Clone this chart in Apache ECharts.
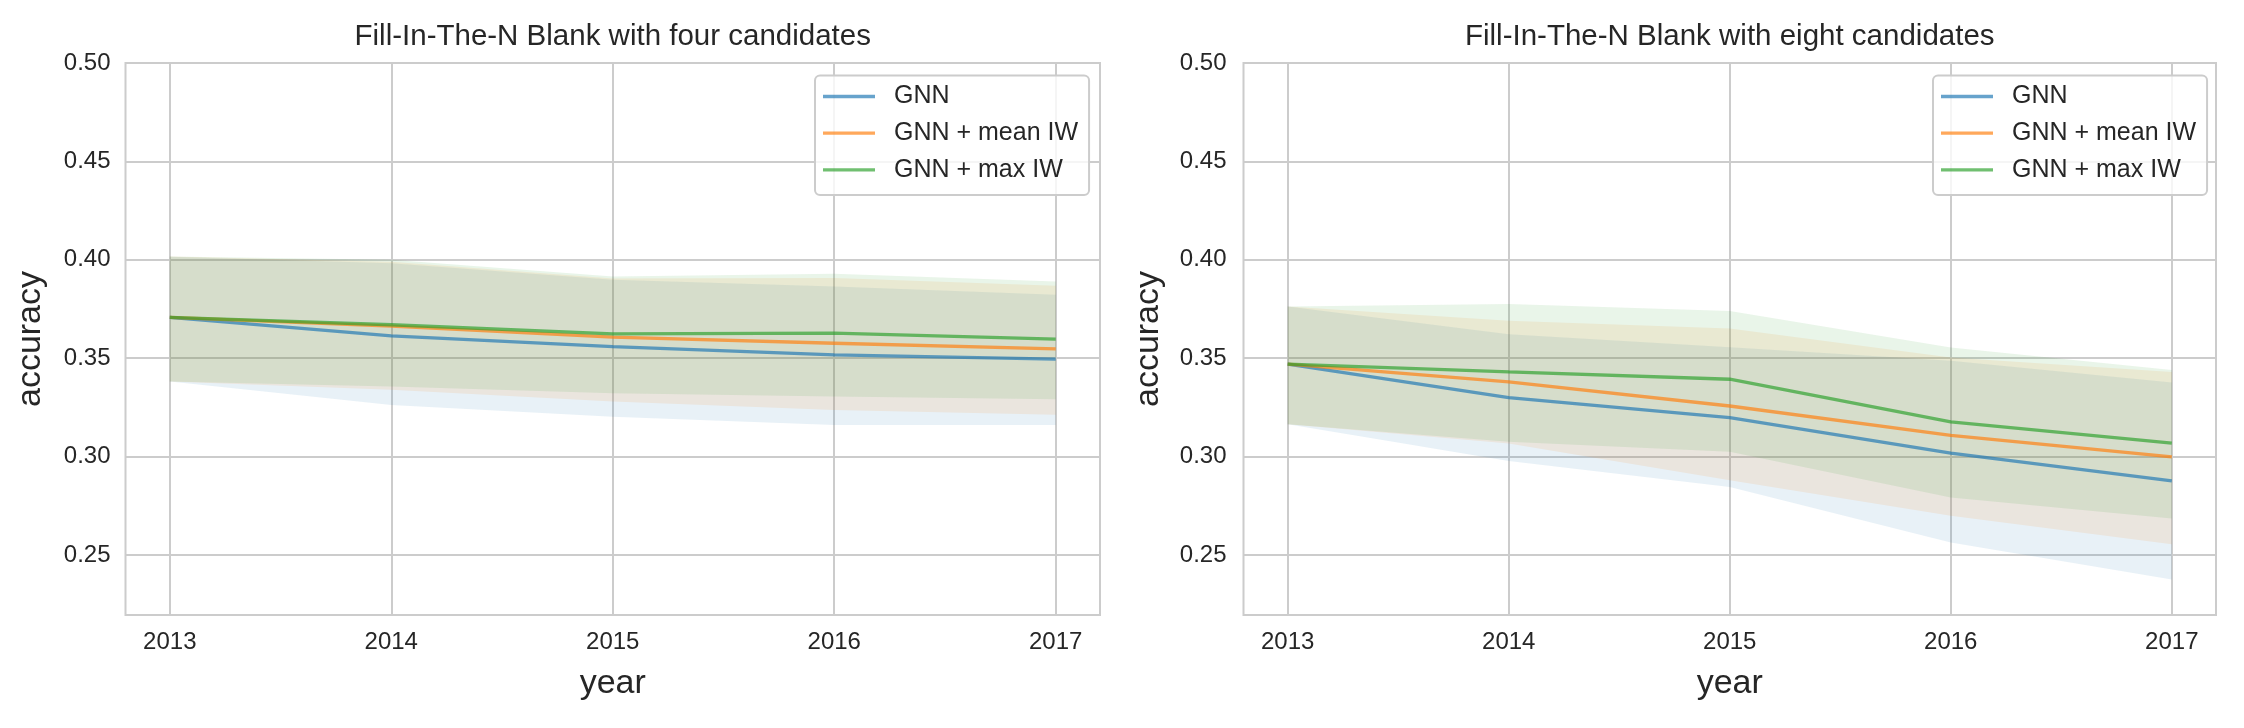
<!DOCTYPE html>
<html><head><meta charset="utf-8">
<script src="https://cdn.jsdelivr.net/npm/echarts@6/dist/echarts.min.js"></script>
<style>html,body{margin:0;padding:0;background:#fff}#c{width:2244px;height:728px}</style>
</head><body><div id="c"></div>
<script>
const years = [2013, 2014, 2015, 2016, 2017];
const yTicks = [0.25, 0.30, 0.35, 0.40, 0.45, 0.50];
const seriesNames = ['GNN', 'GNN + mean IW', 'GNN + max IW'];
const titles = ['Fill-In-The-N Blank with four candidates', 'Fill-In-The-N Blank with eight candidates'];

// Four candidates (left panel)
const four_gnn      = [0.3707, 0.3613, 0.3559, 0.3517, 0.3495];
const four_gnn_lo   = [0.3381, 0.3262, 0.3203, 0.3161, 0.3161];
const four_gnn_hi   = [0.4015, 0.3983, 0.3898, 0.3864, 0.3822];
const four_mean     = [0.3707, 0.3663, 0.3607, 0.3576, 0.3547];
const four_mean_lo  = [0.3381, 0.3340, 0.3280, 0.3237, 0.3212];
const four_mean_hi  = [0.4017, 0.3990, 0.3905, 0.3907, 0.3868];
const four_max      = [0.3707, 0.3670, 0.3624, 0.3627, 0.3597];
const four_max_lo   = [0.3381, 0.3356, 0.3322, 0.3305, 0.3291];
const four_max_hi   = [0.4017, 0.4000, 0.3915, 0.3929, 0.3890];

// Eight candidates (right panel)
const eight_gnn     = [0.3470, 0.3300, 0.3198, 0.3017, 0.2876];
const eight_gnn_lo  = [0.3164, 0.2978, 0.2845, 0.2563, 0.2376];
const eight_gnn_hi  = [0.3763, 0.3622, 0.3556, 0.3487, 0.3376];
const eight_mean    = [0.3470, 0.3380, 0.3257, 0.3108, 0.2998];
const eight_mean_lo = [0.3164, 0.3066, 0.2880, 0.2699, 0.2555];
const eight_mean_hi = [0.3763, 0.3690, 0.3651, 0.3503, 0.3430];
const eight_max     = [0.3470, 0.3430, 0.3393, 0.3176, 0.3068];
const eight_max_lo  = [0.3164, 0.3075, 0.3025, 0.2792, 0.2685];
const eight_max_hi  = [0.3763, 0.3775, 0.3740, 0.3554, 0.3440];

const panels = [
  {mean: [four_gnn, four_mean, four_max], lo: [four_gnn_lo, four_mean_lo, four_max_lo], hi: [four_gnn_hi, four_mean_hi, four_max_hi]},
  {mean: [eight_gnn, eight_mean, eight_max], lo: [eight_gnn_lo, eight_mean_lo, eight_max_lo], hi: [eight_gnn_hi, eight_mean_hi, eight_max_hi]}
];

const rgb = [[31,119,180],[255,127,14],[44,160,44]];
const lineAlpha = 0.68, bandAlpha = 0.1;
const FONT = '"Liberation Sans", Arial, sans-serif';
const TXT = '#262626';
const GRIDC = '#cccccc';

const gridsPx = [
  {left: 125.5, top: 63, width: 974.5, height: 552},
  {left: 1243.5, top: 63, width: 972.5, height: 552}
];

const chart = echarts.init(document.getElementById('c'), null, {renderer: 'canvas'});

const grid = gridsPx.map(g => ({left: g.left, top: g.top, width: g.width, height: g.height,
  show: true, borderColor: GRIDC, borderWidth: 2, backgroundColor: 'transparent', containLabel: false}));

const xAxis = gridsPx.map((g, i) => ({
  type: 'value', gridIndex: i, min: 2012.8, max: 2017.2,
  name: 'year', nameLocation: 'middle', nameGap: 52,
  nameTextStyle: {fontSize: 34, color: TXT, fontFamily: FONT},
  axisLine: {show: false},
  axisTick: {show: false, customValues: years},
  axisLabel: {customValues: years, fontSize: 24, color: TXT, fontFamily: FONT, margin: 15, formatter: v => String(v)},
  splitLine: {show: true, lineStyle: {color: GRIDC, width: 2}}
}));

const yAxis = gridsPx.map((g, i) => ({
  type: 'value', gridIndex: i, min: 0.2195, max: 0.5,
  name: 'accuracy', nameLocation: 'middle', nameGap: 78,
  nameTextStyle: {fontSize: 34, color: TXT, fontFamily: FONT},
  axisLine: {show: false},
  axisTick: {show: false, customValues: yTicks},
  axisLabel: {customValues: yTicks, fontSize: 24, color: TXT, fontFamily: FONT, margin: i === 0 ? 15 : 17, formatter: v => v.toFixed(2)},
  splitLine: {show: true, lineStyle: {color: GRIDC, width: 2}}
}));

const series = [];
panels.forEach((p, pi) => {
  for (let k = 0; k < 3; k++) {
    const data = years.map((y, j) => [y, p.lo[k][j], p.hi[k][j]]);
    const c = rgb[k];
    series.push({
      type: 'custom', name: 'band_' + pi + '_' + k, xAxisIndex: pi, yAxisIndex: pi,
      silent: true, clip: true, data: data, encode: {x: 0, y: [1, 2]}, z: 1,
      renderItem: (params, api) => {
        if (params.dataIndex !== 0) return null;
        const up = data.map(d => api.coord([d[0], d[2]]));
        const dn = data.slice().reverse().map(d => api.coord([d[0], d[1]]));
        return {type: 'polygon', shape: {points: up.concat(dn)},
          style: {fill: `rgba(${c[0]},${c[1]},${c[2]},${bandAlpha})`, stroke: null}};
      }
    });
  }
});
panels.forEach((p, pi) => {
  for (let k = 0; k < 3; k++) {
    const c = rgb[k];
    const col = `rgba(${c[0]},${c[1]},${c[2]},${lineAlpha})`;
    series.push({
      type: 'line', name: seriesNames[k], xAxisIndex: pi, yAxisIndex: pi, z: 3,
      data: years.map((y, j) => [y, p.mean[k][j]]),
      showSymbol: false, symbol: 'none', smooth: false,
      lineStyle: {color: col, width: 3.3}, itemStyle: {color: col},
      emphasis: {disabled: true}
    });
  }
});

const legendData = seriesNames.map((n, k) => ({name: n, icon: 'rect',
  itemStyle: {color: `rgba(${rgb[k][0]},${rgb[k][1]},${rgb[k][2]},${lineAlpha})`}}));
const legend = [815, 1933].map(x => ({
  data: legendData, orient: 'vertical', left: x, top: 75.5,
  itemWidth: 52, itemHeight: 3.3, itemGap: 8.7,
  padding: [7, 11, 11, 8],
  backgroundColor: 'rgba(255,255,255,0.8)', borderColor: GRIDC, borderWidth: 2, borderRadius: 5,
  textStyle: {fontSize: 25, color: TXT, fontFamily: FONT, lineHeight: 28, padding: [0, 0, 0, 14]},
  selectedMode: false
}));

const graphic = titles.map((t, i) => ({
  type: 'text', x: gridsPx[i].left + gridsPx[i].width / 2, y: 37,
  style: {text: t, fill: TXT, font: `29.5px ${FONT}`, textAlign: 'center', textVerticalAlign: 'middle'},
  silent: true
}));

chart.setOption({
  animation: false,
  backgroundColor: '#ffffff',
  grid, xAxis, yAxis, series, legend, graphic,
  tooltip: {show: false}
});
</script></body></html>
